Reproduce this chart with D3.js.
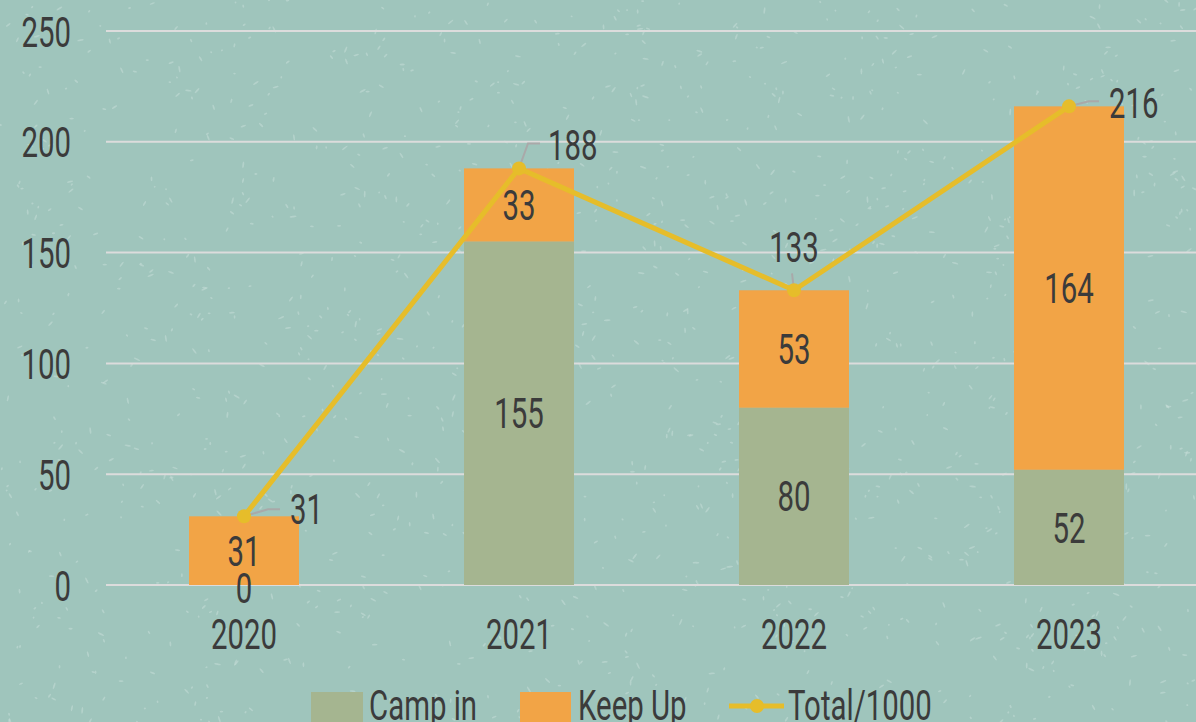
<!DOCTYPE html>
<html>
<head>
<meta charset="utf-8">
<script src="https://cdn.jsdelivr.net/npm/d3@7"></script>
<style>
  html, body { margin: 0; padding: 0; background: #9fc5bc; overflow: hidden; }
  svg text { font-family: Roboto, "Liberation Sans", sans-serif; font-weight: 400; fill: #3b3b3b; }
</style>
</head>
<body>
<div id="chart"></div>
<script>
const years = ['2020', '2021', '2022', '2023'];
const campIn = [0, 155, 80, 52];
const keepUp = [31, 33, 53, 164];
const total = [31, 188, 133, 216];
const yTicks = [0, 50, 100, 150, 200, 250];
const seriesNames = ['Camp in', 'Keep Up', 'Total/1000'];

const width = 1196;
const height = 722;
const fontSize = 42;
const squeeze = 0.7;
const colors = { camp: '#a5b590', keep: '#f2a446', line: '#e6bd2a', grid: '#dcdcdc' };

const svg = d3.select('#chart')
              .append('svg')
              .attr('width', width)
              .attr('height', height);

svg.append('rect')
   .attr('width', width)
   .attr('height', height)
   .attr('fill', '#9fc5bc');

// light speckle texture (decoration only, seeded so it is the same every run)
const rnd = d3.randomLcg(7);
const specks = d3.range(1400).map(() => [rnd() * width, rnd() * height, 1 + rnd() * 2.5, rnd() * 180]);
svg.append('g')
   .selectAll('ellipse')
   .data(specks)
   .join('ellipse')
   .attr('transform', (d) => 'translate(' + d[0] + ',' + d[1] + ') rotate(' + d[3] + ')')
   .attr('rx', (d) => d[2])
   .attr('ry', 0.9)
   .attr('fill', '#c4ddd7')
   .attr('opacity', 0.55);

const xScale = d3.scaleBand()
                 .domain(years)
                 .range([106.5, 1206.5]);

const yScale = d3.scaleLinear()
                 .domain([0, 250])
                 .range([585, 31]);

const barW = xScale.bandwidth() * 0.4;
const cx = (d) => xScale(d) + xScale.bandwidth() / 2;

// gridlines
svg.append('g')
   .selectAll('line')
   .data(yTicks)
   .join('line')
   .attr('x1', 106)
   .attr('x2', width)
   .attr('y1', (d) => yScale(d))
   .attr('y2', (d) => yScale(d))
   .attr('stroke', colors.grid)
   .attr('stroke-width', 2);

// y axis labels
const yAxis = d3.axisLeft(yScale).tickValues(yTicks).tickSize(0).tickPadding(0);
const yG = svg.append('g')
              .attr('transform', 'translate(71, 0)')
              .call(yAxis);
yG.select('.domain').remove();
yG.attr('font-family', null).attr('font-size', null);
yG.selectAll('text')
  .attr('font-size', fontSize)
  .attr('x', 0)
  .attr('y', 0)
  .attr('dy', '0.36em');

// x axis labels
const xAxis = d3.axisBottom(xScale).tickSize(0).tickPadding(0);
const xG = svg.append('g')
              .attr('transform', 'translate(0, 634)')
              .call(xAxis);
xG.select('.domain').remove();
xG.attr('font-family', null).attr('font-size', null);
xG.selectAll('text')
  .attr('font-size', fontSize)
  .attr('x', 0)
  .attr('y', 0)
  .attr('dy', '0.36em');

const rows = years.map((y, i) => ({ year: y, camp: campIn[i], keep: keepUp[i], total: total[i] }));

// bars
svg.append('g')
   .selectAll('rect')
   .data(rows)
   .join('rect')
   .attr('x', (d) => cx(d.year) - barW / 2)
   .attr('width', barW)
   .attr('y', (d) => yScale(d.camp))
   .attr('height', (d) => yScale(0) - yScale(d.camp))
   .attr('fill', colors.camp);

svg.append('g')
   .selectAll('rect')
   .data(rows)
   .join('rect')
   .attr('x', (d) => cx(d.year) - barW / 2)
   .attr('width', barW)
   .attr('y', (d) => yScale(d.camp + d.keep))
   .attr('height', (d) => yScale(d.camp) - yScale(d.camp + d.keep))
   .attr('fill', colors.keep);

// bar labels
svg.append('g')
   .selectAll('text')
   .data(rows)
   .join('text')
   .attr('x', (d) => cx(d.year))
   .attr('y', (d) => yScale(d.camp / 2) + (d.camp === 0 ? 3 : 0))
   .attr('dy', '0.36em')
   .attr('text-anchor', 'middle')
   .attr('font-size', fontSize)
   .text((d) => d.camp);

svg.append('g')
   .selectAll('text')
   .data(rows)
   .join('text')
   .attr('x', (d) => cx(d.year))
   .attr('y', (d) => yScale(d.camp + d.keep / 2))
   .attr('dy', '0.36em')
   .attr('text-anchor', 'middle')
   .attr('font-size', fontSize)
   .text((d) => d.keep);

// total line
const line = d3.line()
               .x((d) => cx(d.year))
               .y((d) => yScale(d.total));

// leader lines + labels, offsets relative to each marker
const leaders = [
  { pts: [[0, 0], [24, -7], [36, -7]], lx: 46, ly: -7, anchor: 'start' },
  { pts: [[0, 0], [9, -25], [21, -25]], lx: 29, ly: -24, anchor: 'start' },
  { pts: [[0, 0], [-2, -17]], lx: 0, ly: -43, anchor: 'middle' },
  { pts: [[0, 0], [20, -5], [30, -5]], lx: 40, ly: -3, anchor: 'start' }
];

svg.append('g')
   .selectAll('polyline')
   .data(rows)
   .join('polyline')
   .attr('points', (d, i) => leaders[i].pts.map((p) => [cx(d.year) + p[0], yScale(d.total) + p[1]].join(',')).join(' '))
   .attr('fill', 'none')
   .attr('stroke', '#a9a9a9')
   .attr('stroke-width', 2);

svg.append('path')
   .datum(rows)
   .attr('d', line)
   .attr('fill', 'none')
   .attr('stroke', colors.line)
   .attr('stroke-width', 5);

svg.append('g')
   .selectAll('circle')
   .data(rows)
   .join('circle')
   .attr('cx', (d) => cx(d.year))
   .attr('cy', (d) => yScale(d.total))
   .attr('r', 7)
   .attr('fill', colors.line);

svg.append('g')
   .selectAll('text')
   .data(rows)
   .join('text')
   .attr('x', (d, i) => cx(d.year) + leaders[i].lx)
   .attr('y', (d, i) => yScale(d.total) + leaders[i].ly)
   .attr('dy', '0.36em')
   .attr('text-anchor', (d, i) => leaders[i].anchor)
   .attr('font-size', fontSize)
   .text((d) => d.total);

// legend
const legend = svg.append('g').attr('transform', 'translate(0, 705)');

legend.append('rect')
      .attr('x', 311).attr('y', -13).attr('width', 52).attr('height', 32)
      .attr('fill', colors.camp);
legend.append('text')
      .attr('x', 369).attr('y', 0).attr('dy', '0.36em')
      .attr('font-size', fontSize).text(seriesNames[0]);

legend.append('rect')
      .attr('x', 520).attr('y', -13).attr('width', 51).attr('height', 32)
      .attr('fill', colors.keep);
legend.append('text')
      .attr('x', 578).attr('y', 0).attr('dy', '0.36em')
      .attr('font-size', fontSize).text(seriesNames[1]);

legend.append('line')
      .attr('x1', 729).attr('x2', 784).attr('y1', 1).attr('y2', 1)
      .attr('stroke', colors.line).attr('stroke-width', 5);
legend.append('circle')
      .attr('cx', 757).attr('cy', 1).attr('r', 7)
      .attr('fill', colors.line);
legend.append('text')
      .attr('x', 788).attr('y', 0).attr('dy', '0.36em')
      .attr('font-size', fontSize).text(seriesNames[2]);

// narrow every label to mimic the condensed face
svg.selectAll('text').each(function () {
  const t = d3.select(this);
  const x = +t.attr('x') || 0;
  const y = +t.attr('y') || 0;
  t.attr('x', 0)
   .attr('y', 0)
   .attr('transform', 'translate(' + x + ',' + y + ') scale(' + squeeze + ',1)');
});
</script>
</body>
</html>
